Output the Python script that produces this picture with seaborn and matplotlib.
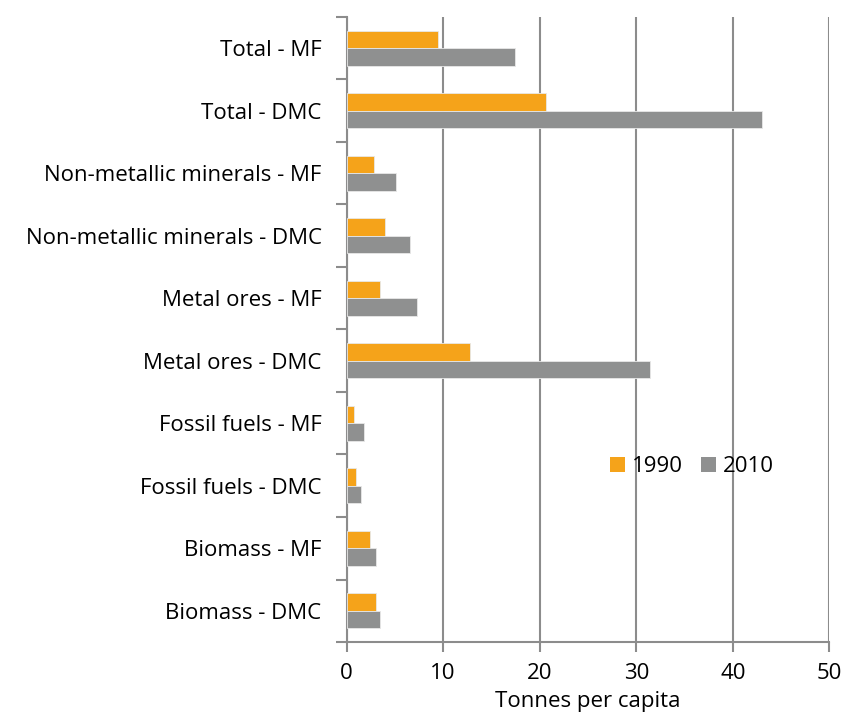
import pandas as pd
import seaborn as sns
from matplotlib import pyplot as plt
from matplotlib.ticker import FixedLocator
from matplotlib.patches import Patch

# categories, top to bottom
categories = ["Total - MF", "Total - DMC",
              "Non-metallic minerals - MF", "Non-metallic minerals - DMC",
              "Metal ores - MF", "Metal ores - DMC",
              "Fossil fuels - MF", "Fossil fuels - DMC",
              "Biomass - MF", "Biomass - DMC"]
values_1990 = [9.5, 20.7, 2.8, 3.95, 3.5, 12.8, 0.74, 0.95, 2.45, 3.05]
values_2010 = [17.4, 43.0, 5.1, 6.6, 7.3, 31.4, 1.85, 1.53, 3.1, 3.5]
years = ["1990", "2010"]
x_ticks = [0, 10, 20, 30, 40, 50]

df = pd.DataFrame({
    "Category": categories * 2,
    "Year": [years[0]] * len(categories) + [years[1]] * len(categories),
    "Value": values_1990 + values_2010,
})

orange = "#F5A31A"
grey = "#8F9090"
axis_grey = "#8C8C8C"

plt.rcParams['font.family'] = ['Open Sans', 'DejaVu Sans']

fig = plt.figure(figsize=(8.46, 7.17), dpi=100)
ax = fig.add_axes([0.4096, 0.1046, 0.5708, 0.8717])

sns.barplot(data=df, x="Value", y="Category", hue="Year", order=categories,
            hue_order=years, palette=[orange, grey], orient="h",
            width=0.56, gap=0, saturation=1, edgecolor="#e8e8e8",
            linewidth=0.6, legend=False, ax=ax, zorder=3)

ax.set_xlim(0, 50)
ax.set_ylim(len(categories) - 0.5, -0.5)
ax.set_xticks(x_ticks)
ax.tick_params(axis="x", labelsize=16, length=7, width=1.5, color=axis_grey,
               pad=8, direction="out")
ax.xaxis.grid(True, color=axis_grey, linewidth=1.5, zorder=0)
ax.set_axisbelow(True)

ax.tick_params(axis="y", which="major", length=0, labelsize=16, pad=18)
ax.yaxis.set_minor_locator(FixedLocator([i - 0.5 for i in range(len(categories) + 1)]))
ax.tick_params(axis="y", which="minor", length=8, width=1.5, color=axis_grey)

for side in ["top", "right"]:
    ax.spines[side].set_visible(False)
for side in ["left", "bottom"]:
    ax.spines[side].set_color(axis_grey)
    ax.spines[side].set_linewidth(1.5)

ax.set_xlabel("Tonnes per capita", fontsize=16, labelpad=5)
ax.set_ylabel("")

handles = [Patch(facecolor=orange, label=years[0]),
           Patch(facecolor=grey, label=years[1])]
fig.legend(handles=handles, loc="center", bbox_to_anchor=(0.818, 0.349),
           ncol=2, frameon=False, fontsize=16, handlelength=0.7,
           handleheight=0.7, handletextpad=0.3, columnspacing=0.8)

fig.savefig("out.png", dpi=100)
